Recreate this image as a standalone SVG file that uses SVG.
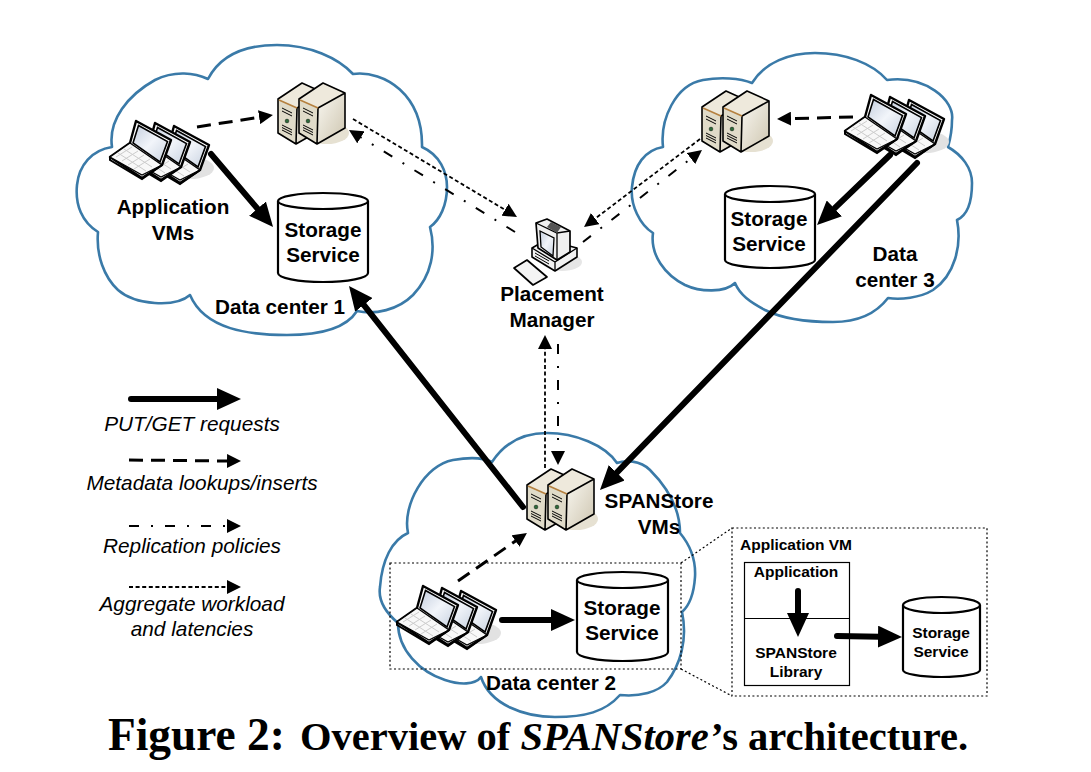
<svg xmlns="http://www.w3.org/2000/svg" width="1091" height="772" viewBox="0 0 1091 772">
<style>
text{font-family:"Liberation Sans",Arial,sans-serif;fill:#000}
.b{font-weight:700;font-size:20.7px;text-anchor:middle}
.s{font-weight:700;font-size:15.5px;text-anchor:middle}
.l{font-style:italic;font-size:20.8px;text-anchor:middle}
.cap{font-family:"Liberation Serif","Times New Roman",serif;font-weight:700}
.cloud{fill:#fff;stroke:#3a7aa8;stroke-width:2.6;stroke-linejoin:round}
.cyl{fill:#fff;stroke:#000;stroke-width:2.2}
.dot{fill:none;stroke:#000;stroke-width:1.2;stroke-dasharray:2 2.4}
.put{fill:none;stroke:#000;stroke-width:6;stroke-linecap:round;marker-end:url(#big)}
.meta{fill:none;stroke:#000;stroke-width:3;stroke-dasharray:14 8;marker-end:url(#med)}
.rep{fill:none;stroke:#000;stroke-width:2;stroke-dasharray:10 12 2 12;marker-end:url(#med)}
.agg{fill:none;stroke:#000;stroke-width:1.8;stroke-dasharray:4 2.6;marker-end:url(#med)}
</style>
<defs>
<marker id="big" markerUnits="userSpaceOnUse" markerWidth="26" markerHeight="22" refX="2" refY="11" orient="auto"><path d="M0,0L24,11L0,22z" fill="#000"/></marker>
<marker id="med" markerUnits="userSpaceOnUse" markerWidth="15" markerHeight="14" refX="2" refY="7" orient="auto"><path d="M0,0L14,7L0,14z" fill="#000"/></marker>
<linearGradient id="scr" x1="0" y1="0" x2="1" y2="1"><stop offset="0" stop-color="#c4cede"/><stop offset=".5" stop-color="#f2f5fa"/><stop offset="1" stop-color="#c8d2e0"/></linearGradient>
<linearGradient id="side" x1="0" y1="0" x2="1" y2="1"><stop offset="0" stop-color="#faf8f2"/><stop offset="1" stop-color="#cdc5af"/></linearGradient>
<g id="lap">
<path d="M0,0L20,-14L26,-36L61,-17L52,8L32,21z" fill="#fff" stroke="#000" stroke-width="2.400" stroke-linejoin="round"/>
<path d="M23,-14L28.500,-31.500L57.500,-15.500L50,5z" fill="url(#scr)" stroke="#000" stroke-width="1.600"/>
<path d="M0,0L20,-14L52,8L32,18z" fill="#f8f8f8" stroke="#000" stroke-width="1.300"/>
<path d="M6,0L22,-10M12,4L28,-6M18,8L34,-2M24,12L40,2M8,-4L36,14M14,-8L42,10" stroke="#ccc" stroke-width="1" fill="none"/>
<path d="M0,0L0,3L32,22L52,8" fill="none" stroke="#000" stroke-width="2"/>
</g>
<g id="srv1">
<path d="M0,0L24,-16L46,-6L46,29L18,45L0,34z" fill="#e4dfcf"/>
<path d="M0,0L24,-16L46,-6L19,9z" fill="#eee9dc"/>
<path d="M19,9L46,-6L46,29L18,45z" fill="url(#side)"/>
<path d="M0,0L19,9L18,45L0,34z" fill="#e0dbc9"/>
<path d="M0,0L24,-16L46,-6L46,29L18,45L0,34zM19,9L46,-6M19,9L18,45" fill="none" stroke="#000" stroke-width="1.600" stroke-linejoin="round"/>
<path d="M1,1L19,9" stroke="#b5803f" stroke-width="1.600"/>
<path d="M4,9L14,14M4,12L14,17M4,26L14,31M4,28.500L14,33.500M4,31L14,36" stroke="#000" stroke-width="1" fill="none"/>
<circle cx="9" cy="22" r="1.900" fill="#2d6a3a" stroke="#000" stroke-width=".4"/>
</g>
<g id="srv"><ellipse cx="28" cy="34" rx="22" ry="11" fill="#e6e1d2"/><use href="#srv1" x="-21" y="0"/><use href="#srv1"/></g>
<g id="laps">
<ellipse cx="80" cy="11" rx="24" ry="11" fill="#e2e2e2"/>
<use href="#lap" x="38" y="5"/><use href="#lap" x="19" y="2"/><use href="#lap"/>
</g>
</defs>
<rect width="1091" height="772" fill="#fff"/>

<g id="dc1-cloud"><path class="cloud" d="M208,79C222,52 250,45 277,45C310,45 338,58 353,74C385,70 423,95 422,147C440,155 447,172 447,187C447,205 440,220 430,227C436,250 432,275 413,295C398,310 375,315 357,311C345,330 315,335 287,335C250,335 205,330 190,295C175,308 135,305 118,290C104,277 96,255 98,232C82,222 75,205 77,185C79,165 92,150 112,147C108,120 128,95 155,80C175,70 195,73 208,79z"/></g>
<g id="dc3-cloud"><path class="cloud" d="M752,83C765,62 790,53 815,53C845,53 872,63 887,80C925,75 955,100 952,120C952,130 950,140 948,147C962,155 972,168 972,183C972,200 968,215 957,220C962,245 955,275 933,290C920,298 900,300 888,298C875,315 855,322 833,322C810,322 785,320 765,310C750,302 740,295 735,283C725,293 700,292 685,285C665,275 650,255 653,233C640,225 630,205 632,187C634,165 645,150 663,147C660,120 675,85 703,80C720,77 740,78 752,83z"/></g>
<g id="dc2-cloud"><path class="cloud" d="M492,462C505,442 525,433 547,433C575,433 605,445 617,463C625,460 640,460 650,470C668,488 680,510 680,533C690,545 696,560 695,577C694,592 690,605 682,612C688,640 680,665 667,682C658,692 640,697 620,695C605,712 585,717 555,717C525,717 490,705 481,677C475,685 460,685 445,680C420,672 398,650 398,623C385,612 378,600 380,587C382,560 392,540 408,533C402,505 425,465 453,460C470,457 484,458 492,462z"/></g>

<g id="connectors">
<path class="put" d="M211,154L258.800,210.200"/>
<path class="put" d="M523,507L362.600,303.300"/>
<path class="put" d="M890,155L832.900,209.800"/>
<path class="put" d="M917,163L615.300,474.200"/>
<path class="put" d="M502,620L553,620"/>
<path class="meta" d="M197,127L261.100,116.900"/>
<path class="meta" d="M853,117L789,118.700"/>
<path class="meta" d="M458,581L517.100,539.900"/>
<path class="agg" d="M353,119L506.700,210.800"/>
<path class="agg" d="M700,139L593.600,219.800"/>
<path class="agg" d="M545,468L545,347"/>
<path class="rep" d="M515,232L359.200,136.300"/>
<path class="rep" d="M583,242L692.500,157.300"/>
<path class="rep" d="M558,344L558,453"/>
</g>

<g id="dc1-laptops"><use href="#laps" x="110" y="157"/></g>
<g id="dc1-servers"><use href="#srv" x="299" y="99"/></g>
<g id="dc3-laptops"><use href="#laps" x="845" y="131"/></g>
<g id="dc3-servers"><use href="#srv" x="723" y="107"/></g>
<g id="dc2-laptops"><use href="#laps" x="397" y="622"/></g>
<g id="dc2-servers"><use href="#srv" x="548" y="485"/></g>

<g id="dc1-storage">
<path class="cyl" d="M278,201V273A45,9 0 0 0 368,273V201"/><ellipse class="cyl" cx="323" cy="201" rx="45" ry="8"/>
<text class="b" x="323" y="237">Storage</text><text class="b" x="323" y="262">Service</text>
</g>
<g id="dc3-storage">
<path class="cyl" d="M725,194V260A45,8 0 0 0 815,260V194"/><ellipse class="cyl" cx="770" cy="194" rx="45" ry="8"/>
<text class="b" x="769" y="226">Storage</text><text class="b" x="769" y="251">Service</text>
</g>
<g id="dc2-storage">
<path class="cyl" d="M577,580V652A45.500,9 0 0 0 668,652V580"/><ellipse class="cyl" cx="622.500" cy="580" rx="45.500" ry="8"/>
<text class="b" x="622" y="615">Storage</text><text class="b" x="622" y="640">Service</text>
</g>

<g id="labels">
<text class="b" x="173" y="214">Application</text><text class="b" x="173" y="240">VMs</text>
<text class="b" x="280" y="314">Data center 1</text>
<text class="b" x="895" y="261">Data</text><text class="b" x="895" y="287">center 3</text>
<text class="b" x="659" y="508">SPANStore</text><text class="b" x="659" y="534">VMs</text>
<text class="b" x="551" y="690">Data center 2</text>
</g>

<g id="placement-manager">
<ellipse cx="562" cy="262" rx="20" ry="9" fill="#e6e6e6"/>
<path d="M532,248L546,240L577,248L577,257L555,271L532,257z" fill="#f2f2f2" stroke="#000" stroke-width="1.600" stroke-linejoin="round"/>
<path d="M532,248L555,262L577,248M555,262L555,271" fill="none" stroke="#000" stroke-width="1.300"/>
<path d="M535,253L549,261M535,256L549,264" stroke="#000" stroke-width="1" fill="none"/>
<path d="M536,223L547,219L570,231L570,252L557,260L538,248z" fill="#f0f0f0" stroke="#000" stroke-width="1.700" stroke-linejoin="round"/>
<path d="M536,223L557,233L570,231M557,233L557,260" fill="none" stroke="#000" stroke-width="1.300"/>
<path d="M540,231L554,238L553,256L541,247z" fill="url(#scr)" stroke="#000" stroke-width="1.300"/>
<path d="M551,222L561,227L557,233L547,227z" fill="#555"/>
<path d="M514,268L527,260L547,277L533,285z" fill="#f4f4f4" stroke="#000" stroke-width="1.700" stroke-linejoin="round"/>
<text class="b" x="552" y="301">Placement</text><text class="b" x="552" y="327">Manager</text>
</g>

<g id="zoom-callout">
<rect class="dot" x="390" y="563" width="291" height="106"/>
<path class="dot" d="M681,563L732,528M681,669L732,696"/>
<rect x="732" y="528" width="255" height="168" fill="#fff"/>
<rect class="dot" x="732" y="528" width="255" height="168"/>
<text x="740" y="550" style="font-weight:700;font-size:15.500px">Application VM</text>
</g>
<g id="vm-stack">
<rect x="744.500" y="562.500" width="105" height="123" fill="#fff" stroke="#000" stroke-width="1.200"/>
<path d="M744.500,618.500H849.500" stroke="#000" stroke-width="1.200"/>
<text class="s" x="796" y="577">Application</text>
<text class="s" x="796" y="658">SPANStore</text><text class="s" x="796" y="677">Library</text>
</g>
<g id="vm-storage">
<path class="cyl" d="M903,605V670A38.500,7 0 0 0 980,670V605"/><ellipse class="cyl" cx="941.500" cy="605" rx="38.500" ry="8"/>
<text class="s" x="941" y="638">Storage</text><text class="s" x="941" y="657">Service</text>
</g>
<g id="vm-connectors">
<path class="put" d="M798,591L798,615"/>
<path class="put" d="M837,636L880,636.700"/>
</g>

<g id="legend">
<path class="put" d="M131,399L219,399"/>
<text class="l" x="192" y="431">PUT/GET requests</text>
<path class="meta" d="M129,460L229,461"/>
<text class="l" x="202" y="490">Metadata lookups/inserts</text>
<path class="rep" d="M129,526L229,526"/>
<text class="l" x="192" y="553">Replication policies</text>
<path class="agg" d="M129,587L229,587"/>
<text class="l" x="192" y="611">Aggregate workload</text>
<text class="l" x="192" y="636">and latencies</text>
</g>

<g id="caption">
<text class="cap" x="108" y="750" font-size="45.400">Figure 2:</text>
<text class="cap" x="300" y="750" font-size="40.500">Overview of <tspan font-style="italic">SPANStore’</tspan>s architecture.</text>
</g>
</svg>
